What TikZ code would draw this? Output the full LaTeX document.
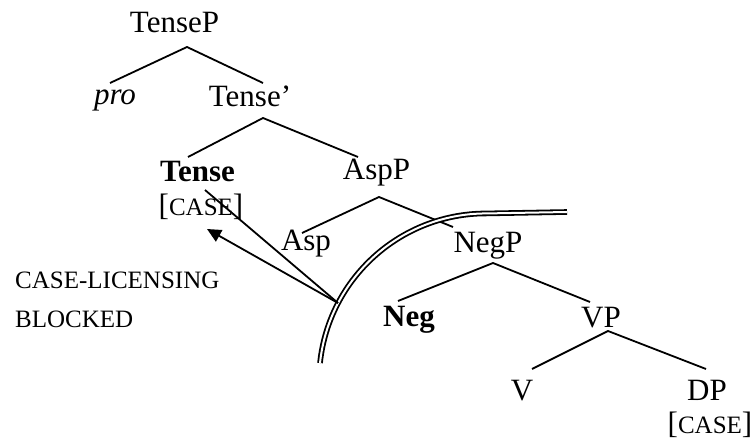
\documentclass[tikz,border=0pt]{standalone}
\usepackage{fontspec}
\setmainfont{Liberation Serif}
\usepackage{tikz}
\usetikzlibrary{arrows.meta, calc}

% small capitals faked at a smaller size
\newcommand{\fsc}[1]{{\fontsize{25}{30}\selectfont #1}}

\begin{document}
\begin{tikzpicture}[
			x=1pt, y=-1pt,
			lbl/.style={inner sep=0pt, anchor=base, font=\fontsize{31}{37}\selectfont},
			branch/.style={line width=1.8pt},
			arr/.style={-{Triangle[length=14pt, width=13pt]}, line width=1.8pt},
			barrier/.style={double, double distance=2pt, line width=1.8pt}
			]
			\useasboundingbox (0,0) rectangle (754,443);
			
			% labels of the tree
			\node[lbl] (tensep) at (174.5,33) {TenseP};
			\node[lbl] (pro) at (115,105) {\textit{pro}};
			\node[lbl] (tensebar) at (250,107) {Tense'};
			\node[lbl] (tense) at (197.5,182) {\textbf{Tense}};
			\node[lbl] (tcase) at (201,216) {[\fsc{CASE}]};
			\node[lbl] (aspp) at (376.5,180) {AspP};
			\node[lbl] (asp) at (306,251) {Asp};
			\node[lbl] (negp) at (488,253) {NegP};
			\node[lbl] (neg) at (409,326) {\textbf{Neg}};
			\node[lbl] (vp) at (601,327) {VP};
			\node[lbl] (v) at (522,400) {V};
			\node[lbl] (dp) at (707,400) {DP};
			\node[lbl] (dcase) at (710,433) {[\fsc{CASE}]};
			\node[lbl, anchor=base west, align=left, font=\fontsize{25}{39}\selectfont] (blocked) at (15,327) {CASE-LICENSING\\BLOCKED};
			
			% branch points
			\coordinate (tensep-b) at (187,47);
			\coordinate (pro-t) at (110,83);
			\coordinate (tensebar-t) at (263,83);
			\coordinate (tensebar-b) at (263,118);
			\coordinate (tense-t) at (188,157);
			\coordinate (aspp-t) at (358,157);
			\coordinate (aspp-b) at (379,197);
			\coordinate (asp-t) at (302,233);
			\coordinate (negp-t) at (453,227);
			\coordinate (negp-b) at (493,263);
			\coordinate (neg-t) at (398,301);
			\coordinate (vp-t) at (590,302);
			\coordinate (vp-b) at (608,331);
			\coordinate (v-t) at (532,369);
			\coordinate (dp-t) at (706,369);
			
			% branches
			\draw[branch] (pro-t) -- (tensep-b) -- (tensebar-t);
			\draw[branch] (tense-t) -- (tensebar-b) -- (aspp-t);
			\draw[branch] (asp-t) -- (aspp-b) -- (negp-t);
			\draw[branch] (neg-t) -- (negp-b) -- (vp-t);
			\draw[branch] (v-t) -- (vp-b) -- (dp-t);
			
			% barrier
			\draw[barrier] (320,363) arc[start angle=186, end angle=270, radius=167] -- (567,212);
			
			% blocked licensing
			\coordinate (blk) at (338,303);
			\coordinate (tcase-t) at (205,190);
			\coordinate (tcase-b) at (207,229);
			\draw[branch] (tcase-t) -- (blk);
			\draw[arr] (blk) -- (tcase-b);
		\end{tikzpicture}
\end{document}
